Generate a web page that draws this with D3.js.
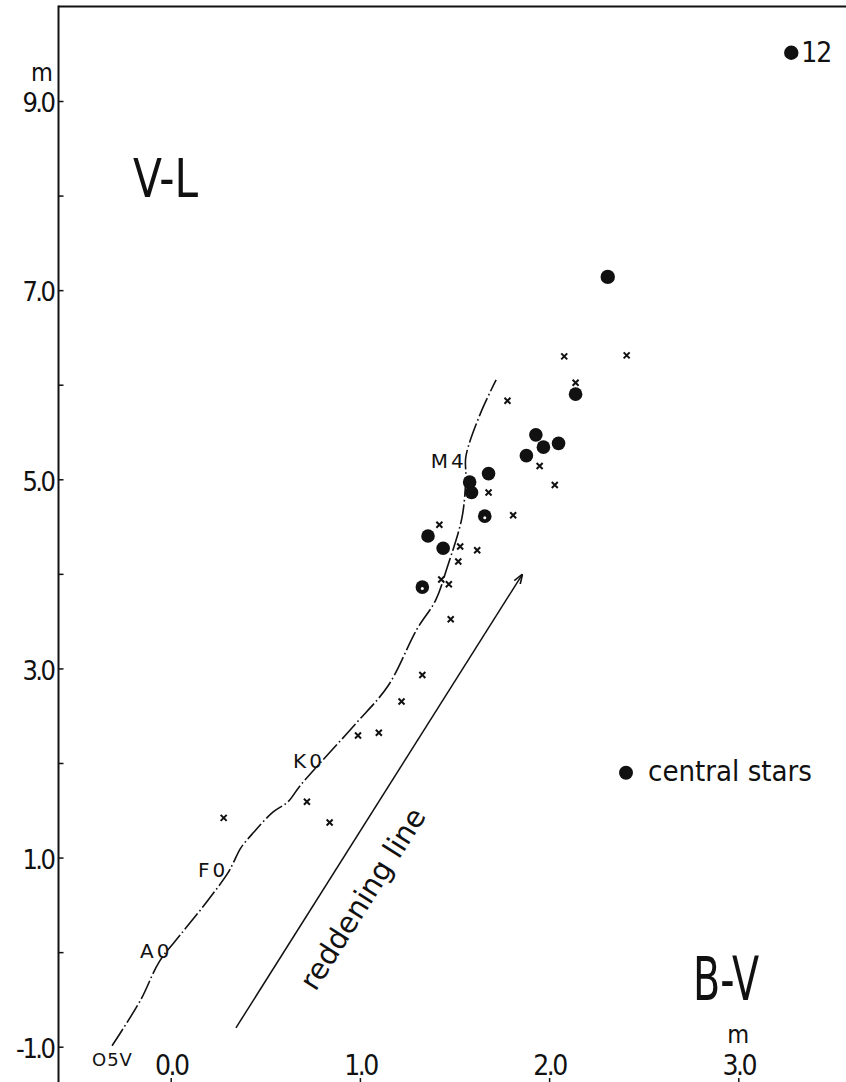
<!DOCTYPE html>
<html>
<head>
<meta charset="utf-8">
<script src="https://cdn.jsdelivr.net/npm/d3@7"></script>
<style>
  body { margin: 0; background: #fff; }
  svg { display: block; }
  text { fill: #111; font-family: "DejaVu Sans Condensed", "Liberation Sans", sans-serif; }
</style>
</head>
<body>
<svg width="846" height="1082"></svg>
<script>
// B-V / V-L two colour diagram

// central stars  [B-V, V-L, hollow spot?]
var centralStars = [
  [3.28, 9.51, 0], [2.31, 7.14, 0], [2.14, 5.90, 0], [1.93, 5.47, 0],
  [1.97, 5.34, 0], [2.05, 5.38, 0], [1.88, 5.25, 0], [1.68, 5.06, 0],
  [1.58, 4.97, 0], [1.59, 4.86, 0], [1.66, 4.61, 1], [1.36, 4.40, 0],
  [1.44, 4.27, 0], [1.33, 3.86, 1]
];

// other stars (crosses)
var fieldStars = [
  [2.08, 6.30], [2.41, 6.31], [2.14, 6.02], [1.78, 5.83], [1.95, 5.14],
  [2.03, 4.94], [1.68, 4.86], [1.81, 4.62], [1.42, 4.52], [1.53, 4.29],
  [1.62, 4.25], [1.52, 4.13], [1.43, 3.94], [1.47, 3.89], [1.48, 3.52],
  [1.33, 2.93], [1.22, 2.65], [1.10, 2.32], [0.99, 2.29], [0.72, 1.59],
  [0.84, 1.37], [0.28, 1.42]
];

// main sequence, O5V .. M
var mainSequence = [
  [-0.31, -0.99], [-0.16, -0.51], [-0.06, -0.10], [0.05, 0.18], [0.19, 0.53],
  [0.30, 0.83], [0.33, 0.94], [0.37, 1.10], [0.44, 1.27], [0.54, 1.48],
  [0.62, 1.59], [0.68, 1.75], [0.79, 2.00], [0.98, 2.42], [1.15, 2.82],
  [1.30, 3.41], [1.40, 3.72], [1.46, 4.06], [1.54, 4.60], [1.56, 5.03],
  [1.56, 5.24], [1.64, 5.71], [1.72, 6.05]
];

var spectralTypes = ["O5V", "A0", "F0", "K0", "M4"];
var spectralAt = [[-0.416, -1.207], [-0.162, -0.062], [0.144, 0.794], [0.647, 1.947], [1.374, 5.119]];

var reddening = [[0.345, -0.80], [1.857, 3.99]];

var xTicks = [0, 1, 2, 3];
var yTicks = [-1, 0, 1, 2, 3, 4, 5, 6, 7, 8, 9];

var svg = d3.select("svg");

var x = d3.scaleLinear().domain([0, 3]).range([170.7, 738.3]);
var y = d3.scaleLinear().domain([-1, 9]).range([1046.7, 101]);

var x0 = 58.5, yTop = 6.5, yBot = 1082;

// frame: left axis + top line
svg.append("line").attr("x1", x0).attr("x2", x0).attr("y1", yTop - 1).attr("y2", yBot)
  .attr("stroke", "#111").attr("stroke-width", 2);
svg.append("line").attr("x1", x0).attr("x2", 846).attr("y1", yTop).attr("y2", yTop)
  .attr("stroke", "#111").attr("stroke-width", 2.2);

// y axis
var yAxis = svg.append("g")
  .attr("transform", "translate(" + x0 + ",0)")
  .call(d3.axisLeft(y).tickValues(yTicks).tickSizeInner(-5).tickSizeOuter(0).tickPadding(5)
    .tickFormat(function(d) { return d % 2 ? d.toFixed(1) : ""; }));
yAxis.select(".domain").remove();
yAxis.selectAll("line").attr("stroke", "#111").attr("stroke-width", 1.5);
yAxis.selectAll("text").attr("font-size", 27).attr("dy", "0.4em").attr("letter-spacing", -2.5)
  .style("font-family", null);

svg.append("text").attr("x", 53).attr("y", y(9) - 20).attr("text-anchor", "end")
  .attr("font-size", 25).text("m");

// x axis (ticks at the bottom edge, labels above)
var xAxis = svg.append("g")
  .attr("transform", "translate(0," + yBot + ")")
  .call(d3.axisTop(x).tickValues(xTicks).tickSize(4).tickPadding(3)
    .tickFormat(function(d) { return d.toFixed(1); }));
xAxis.select(".domain").remove();
xAxis.selectAll("line").attr("stroke", "#111").attr("stroke-width", 1.5);
xAxis.selectAll("text").attr("font-size", 28).attr("letter-spacing", -2.5)
  .style("font-family", null);

svg.append("text").attr("x", x(3)).attr("y", 1043).attr("text-anchor", "middle")
  .attr("font-size", 25).text("m");

// axis titles
svg.append("text").attr("x", 133).attr("y", 197).attr("font-size", 54)
  .attr("textLength", 65).attr("lengthAdjust", "spacingAndGlyphs").text("V-L");
svg.append("text").attr("x", 693).attr("y", 1000).attr("font-size", 60)
  .attr("textLength", 66).attr("lengthAdjust", "spacingAndGlyphs").text("B-V");

// main sequence (dash-dot)
var line = d3.line()
  .x(function(d) { return x(d[0]); })
  .y(function(d) { return y(d[1]); })
  .curve(d3.curveCatmullRom);

svg.append("path").datum(mainSequence).attr("d", line)
  .attr("fill", "none").attr("stroke", "#111").attr("stroke-width", 1.6)
  .attr("stroke-dasharray", "20,3,1.6,3");

svg.selectAll(".sp").data(spectralTypes).enter().append("text")
  .attr("class", "sp")
  .attr("x", function(d, i) { return x(spectralAt[i][0]); })
  .attr("y", function(d, i) { return y(spectralAt[i][1]); })
  .attr("font-size", function(d) { return d === "O5V" ? 18 : 20; })
  .attr("letter-spacing", function(d) { return d === "O5V" ? 1 : 3; })
  .style("font-family", "'DejaVu Sans', sans-serif")
  .text(function(d) { return d; });

// reddening line with arrow
svg.append("defs").append("marker")
  .attr("id", "arrow").attr("viewBox", "0 0 10 10").attr("refX", 9).attr("refY", 5)
  .attr("markerWidth", 10).attr("markerHeight", 10).attr("markerUnits", "userSpaceOnUse")
  .attr("orient", "auto")
  .append("path").attr("d", "M0,1.5L10,5L0,8.5").attr("fill", "none")
  .attr("stroke", "#111").attr("stroke-width", 1.6);

var rx1 = x(reddening[0][0]), ry1 = y(reddening[0][1]);
var rx2 = x(reddening[1][0]), ry2 = y(reddening[1][1]);
svg.append("line").attr("x1", rx1).attr("y1", ry1).attr("x2", rx2).attr("y2", ry2)
  .attr("stroke", "#111").attr("stroke-width", 1.5).attr("marker-end", "url(#arrow)");

var dx = rx2 - rx1, dy = ry2 - ry1, len = Math.sqrt(dx * dx + dy * dy);
var ang = Math.atan2(dy, dx) * 180 / Math.PI;
var t = 0.33, off = 38;
var tx = rx1 + dx * t - dy / len * off, ty = ry1 + dy * t + dx / len * off;
svg.append("text")
  .attr("transform", "translate(" + tx + "," + ty + ") rotate(" + ang + ")")
  .attr("text-anchor", "middle").attr("dy", "0.35em")
  .attr("font-size", 29).style("font-family", "'DejaVu Sans', sans-serif")
  .text("reddening line");

// field stars
var cs = 3;
svg.selectAll(".fs").data(fieldStars).enter().append("path")
  .attr("class", "fs")
  .attr("d", function(d) {
    var px = x(d[0]), py = y(d[1]);
    return "M" + (px - cs) + "," + (py - cs) + "L" + (px + cs) + "," + (py + cs) +
           "M" + (px + cs) + "," + (py - cs) + "L" + (px - cs) + "," + (py + cs);
  })
  .attr("stroke", "#111").attr("stroke-width", 2).attr("fill", "none");

// central stars
svg.selectAll(".cs").data(centralStars).enter().append("circle")
  .attr("class", "cs")
  .attr("cx", function(d) { return x(d[0]); })
  .attr("cy", function(d) { return y(d[1]); })
  .attr("r", function(d, i) { return i < 2 ? 7.2 : 6.8; })
  .attr("fill", "#111");
svg.selectAll(".spot").data(centralStars.filter(function(d) { return d[2]; })).enter()
  .append("circle").attr("class", "spot")
  .attr("cx", function(d) { return x(d[0]); })
  .attr("cy", function(d) { return y(d[1]) + 1.5; })
  .attr("r", 1.5).attr("fill", "#fff");

svg.append("text").attr("x", x(centralStars[0][0]) + 10).attr("y", 62)
  .attr("font-size", 28).attr("letter-spacing", -1).text("12");

// legend
svg.append("circle").attr("cx", 626).attr("cy", 772.7).attr("r", 7).attr("fill", "#111");
svg.append("text").attr("x", 648).attr("y", 781)
  .attr("font-size", 28).attr("textLength", 164).attr("lengthAdjust", "spacingAndGlyphs")
  .text("central stars");
</script>
</body>
</html>
